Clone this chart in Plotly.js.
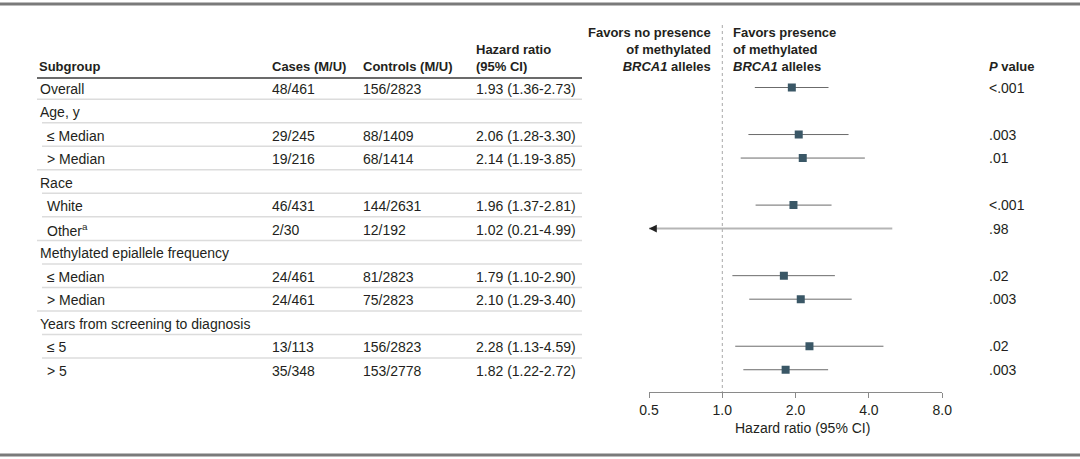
<!DOCTYPE html>
<html>
<head>
<meta charset="utf-8">
<script src="https://cdn.plot.ly/plotly-3.0.1.min.js"></script>
<style>html,body{margin:0;padding:0;background:#fff;}#chart{width:1080px;height:459px;}</style>
</head>
<body>
<div id="chart"></div>
<script>
// ---------------- data ----------------
const subgroups = ['Overall', 'Age, y', '≤ Median', '> Median', 'Race', 'White', 'Other<sup>a</sup>',
  'Methylated epiallele frequency', '≤ Median', '> Median', 'Years from screening to diagnosis', '≤ 5', '> 5'];
const isSubrow = [false, false, true, true, false, true, true, false, true, true, false, true, true];
const cases = ['48/461', '', '29/245', '19/216', '', '46/431', '2/30', '', '24/461', '24/461', '', '13/113', '35/348'];
const controls = ['156/2823', '', '88/1409', '68/1414', '', '144/2631', '12/192', '', '81/2823', '75/2823', '', '156/2823', '153/2778'];
const hr = [1.93, null, 2.06, 2.14, null, 1.96, 1.02, null, 1.79, 2.10, null, 2.28, 1.82];
const ciLow = [1.36, null, 1.28, 1.19, null, 1.37, 0.21, null, 1.10, 1.29, null, 1.13, 1.22];
const ciHigh = [2.73, null, 3.30, 3.85, null, 2.81, 4.99, null, 2.90, 3.40, null, 4.59, 2.72];
const pValues = ['<.001', '', '.003', '.01', '', '<.001', '.98', '', '.02', '.003', '', '.02', '.003'];
const tickVals = [0.5, 1, 2, 4, 8];
const tickText = ['0.5', '1.0', '2.0', '4.0', '8.0'];
const axisMin = 0.5, axisMax = 8, refValue = 1;

// ---------------- layout helpers ----------------
const W = 1080, H = 459;
const FONT = 'Liberation Sans, Arial, sans-serif';
const FS = 14, FSH = 13;
const TXT = '#231f20';
const px = v => v / W;
const py = v => 1 - v / H;
const row0 = 87.5, rowStep = 23.52;
const rowOfPx = v => (v - row0) / rowStep;
const nRows = subgroups.length;
const rows = subgroups.map((_, i) => i);

// ---------------- traces ----------------
const lineX = [], lineY = [], truncX = [], truncY = [];
const mX = [], mY = [];
const arrows = [];
rows.forEach(i => {
  if (hr[i] === null) return;
  if (ciLow[i] < axisMin) {
    truncX.push(ciLow[i], ciHigh[i], null); truncY.push(i, i, null);
    arrows.push(i);
  } else {
    lineX.push(ciLow[i], ciHigh[i], null); lineY.push(i, i, null);
    mX.push(hr[i]); mY.push(i);
  }
});

const traces = [
  { type: 'scatter', mode: 'lines', x: [refValue, refValue], y: [rowOfPx(25), rowOfPx(392)],
    line: { color: '#a8a8a8', width: 1, dash: 'dot' }, hoverinfo: 'skip', showlegend: false, cliponaxis: false },
  { type: 'scatter', mode: 'lines', x: lineX, y: lineY, line: { color: '#6b6b6b', width: 1 }, hoverinfo: 'skip', showlegend: false },
  { type: 'scatter', mode: 'lines', x: truncX, y: truncY, line: { color: '#b5b5b5', width: 2 }, hoverinfo: 'skip', showlegend: false },
  { type: 'scatter', mode: 'markers', x: mX, y: mY, marker: { symbol: 'square', size: 8, color: '#3a5766', line: { width: 0 } }, showlegend: false }
];

// ---------------- annotations ----------------
const ann = [];
function t(text, x, y, opts) {
  ann.push(Object.assign({ text, x: px(x), xref: 'paper', y, yref: 'y', showarrow: false,
    xanchor: 'left', yanchor: 'middle', font: { family: FONT, size: FS, color: TXT } }, opts || {}));
}
rows.forEach(i => {
  t(subgroups[i], isSubrow[i] ? 45 : 38, i, { yshift: -1 });
  if (cases[i]) t(cases[i], 270, i, { yshift: -1 });
  if (controls[i]) t(controls[i], 361, i, { yshift: -1 });
  if (hr[i] !== null) t(hr[i].toFixed(2) + ' (' + ciLow[i].toFixed(2) + '-' + ciHigh[i].toFixed(2) + ')', 474, i, { yshift: -1 });
  if (pValues[i]) t(pValues[i], 987, i, { yshift: 0 });
});
function h(text, x, align, xanchor) {
  ann.push({ text, x: px(x), xref: 'paper', y: py(76), yref: 'paper', showarrow: false,
    xanchor: xanchor || 'left', yanchor: 'bottom', align: align || 'left',
    font: { family: FONT, size: FSH, color: TXT } });
}
h('<b>Subgroup</b>', 37);
h('<b>Cases (M/U)</b>', 270);
h('<b>Controls (M/U)</b>', 361);
h('<b>Hazard ratio</b><br><b>(95% CI)</b>', 474);
h('<b>Favors no presence</b><br><b>of methylated</b><br><b><i>BRCA1</i> alleles</b>', 713, 'right', 'right');
h('<b>Favors presence</b><br><b>of methylated</b><br><b><i>BRCA1</i> alleles</b>', 731);
h('<b><i>P</i> value</b>', 987);
// arrows for truncated intervals
arrows.forEach(i => {
  ann.push({ x: Math.log10(axisMin), y: i, xref: 'x', yref: 'y', text: ' ', showarrow: true,
    ax: 9, ay: 0, arrowhead: 2, arrowsize: 1.3, arrowwidth: 1.2, arrowcolor: '#222', standoff: 0 });
});
// axis title
ann.push({ text: 'Hazard ratio (95% CI)', x: px(802), xref: 'paper', y: py(428), yref: 'paper', showarrow: false,
  xanchor: 'center', yanchor: 'middle', font: { family: FONT, size: FS, color: TXT } });

// ---------------- shapes ----------------
const shapes = [];
shapes.push({ type: 'line', xref: 'paper', yref: 'paper', x0: 0, x1: 1, y0: py(4), y1: py(4), line: { color: '#7a7a7a', width: 3 } });
shapes.push({ type: 'line', xref: 'paper', yref: 'paper', x0: 0, x1: 1, y0: py(455), y1: py(455), line: { color: '#7a7a7a', width: 3 } });
shapes.push({ type: 'line', xref: 'paper', yref: 'paper', x0: px(37), x1: px(582), y0: py(78), y1: py(78), line: { color: '#3a3a3a', width: 1.5 } });
for (let i = 0; i < nRows - 1; i++) {
  shapes.push({ type: 'line', xref: 'paper', yref: 'y', x0: px(isSubrow[i + 1] ? 42 : 37), x1: px(582), y0: i + 0.5, y1: i + 0.5,
    line: { color: '#dcdcdc', width: 1.5 } });
}

// ---------------- layout ----------------
const xLeft = 649, perDouble = 73.3;
const xRight = xLeft + perDouble * Math.log2(axisMax / axisMin);
const layout = {
  width: W, height: H,
  margin: { l: 0, r: 0, t: 0, b: 0 },
  paper_bgcolor: '#fff', plot_bgcolor: 'rgba(0,0,0,0)',
  font: { family: FONT, size: FS, color: TXT },
  xaxis: {
    type: 'log', range: [Math.log10(axisMin), Math.log10(axisMax)],
    domain: [px(xLeft), px(xRight)], anchor: 'free', position: (H - 392) / H,
    showline: true, linecolor: '#8a8a8a', linewidth: 1,
    ticks: 'outside', ticklen: 5, tickcolor: '#8a8a8a', tickwidth: 1,
    tickvals: tickVals, ticktext: tickText, tickfont: { family: FONT, size: FS, color: TXT },
    showgrid: false, zeroline: false, fixedrange: true
  },
  yaxis: {
    range: [(H - row0) / rowStep, -row0 / rowStep], domain: [0, 1],
    visible: false, showgrid: false, zeroline: false, fixedrange: true
  },
  annotations: ann,
  shapes: shapes,
  showlegend: false
};
Plotly.newPlot('chart', traces, layout, { displayModeBar: false, staticPlot: true });
</script>
</body>
</html>
